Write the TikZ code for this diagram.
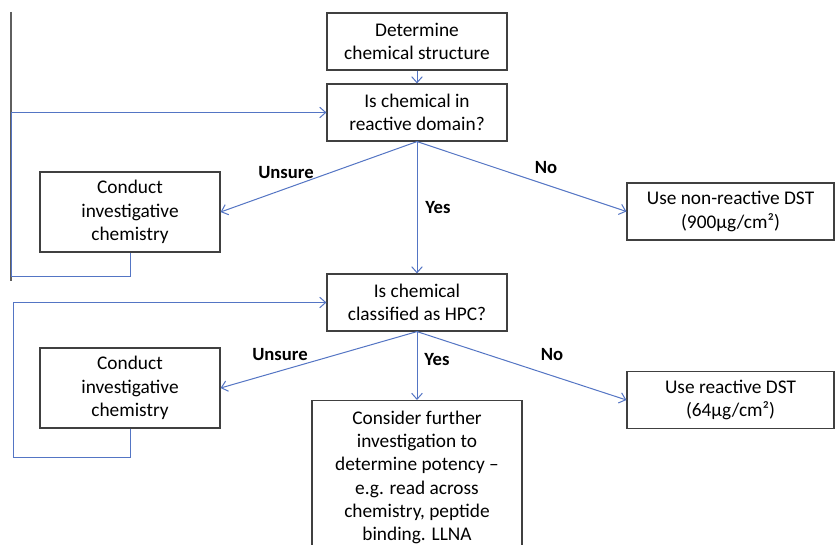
\documentclass[tikz,border=0pt]{standalone}
\usepackage{fontspec}
\setmainfont{Carlito}
\usetikzlibrary{arrows.meta}
\definecolor{flowblue}{RGB}{84,117,196}
\definecolor{boxgrey}{RGB}{64,64,64}
\definecolor{railgrey}{RGB}{95,95,95}

\begin{document}
\begin{tikzpicture}[x=0.75pt, y=-0.75pt,
  box/.style={draw=boxgrey, line width=0.9pt, align=center, inner sep=2pt,
    font=\fontsize{14.5}{17.5}\selectfont},
  flow/.style={draw=flowblue, line width=0.75pt, -{Straight Barb[length=4.5pt,width=8pt]}},
  lbl/.style={font=\fontsize{14}{17}\selectfont\bfseries}]
\clip (0,0) rectangle (835,545);
\fill[white] (0,0) rectangle (835,545);

% Boxes
\node[box, minimum width=135pt, minimum height=42.75pt] (struct) at (417,41.5) {Determine\\chemical structure};
\node[box, minimum width=135pt, minimum height=42.75pt] (domain) at (417,112.5) {Is chemical in\\reactive domain?};
\node[box, minimum width=135pt, minimum height=60pt] (invest1) at (130,212) {Conduct\\investigative\\chemistry};
\node[box, minimum width=155.25pt, minimum height=42.75pt] (nonreact) at (730.5,211.5) {Use non-reactive DST\\(900µg/cm²)};
\node[box, minimum width=135pt, minimum height=42.75pt] (hpc) at (417,302.5) {Is chemical\\classified as HPC?};
\node[box, minimum width=135pt, minimum height=60pt] (invest2) at (130,388) {Conduct\\investigative\\chemistry};
\node[box, minimum width=155.25pt, minimum height=42.75pt] (react) at (730.5,400) {Use reactive DST\\(64µg/cm²)};
\node[box, minimum width=157.5pt, anchor=north, inner ysep=7.5pt] (potency) at (417,400)
  {Consider further\\investigation to\\determine potency --\\e.g. read across\\chemistry, peptide\\binding. LLNA\\~};

% Left rail
\draw[railgrey, line width=0.9pt] (11,12) -- (11,281);

% Connectors
\draw[flow] (struct) -- (domain);
\draw[flow] (domain.south) -- (invest1.east);
\draw[flow] (domain.south) -- (hpc.north);
\draw[flow] (domain.south) -- (nonreact.west);
\draw[flow] (invest1.south) |- (11,277) |- (domain.west);

\draw[flow] (hpc.south) -- (invest2.east);
\draw[flow] (hpc.south) -- (potency.north);
\draw[flow] (hpc.south) -- (react.west);
\draw[flow] (invest2.south) |- (13,457) |- (hpc.west);

% Labels
\node[lbl] (unsure1) at (286,173) {Unsure};
\node[lbl] (yes1) at (438,208) {Yes};
\node[lbl] (no1) at (546,168) {No};
\node[lbl] (unsure2) at (280,355) {Unsure};
\node[lbl] (yes2) at (437,360) {Yes};
\node[lbl] (no2) at (552,355) {No};
\end{tikzpicture}
\end{document}
